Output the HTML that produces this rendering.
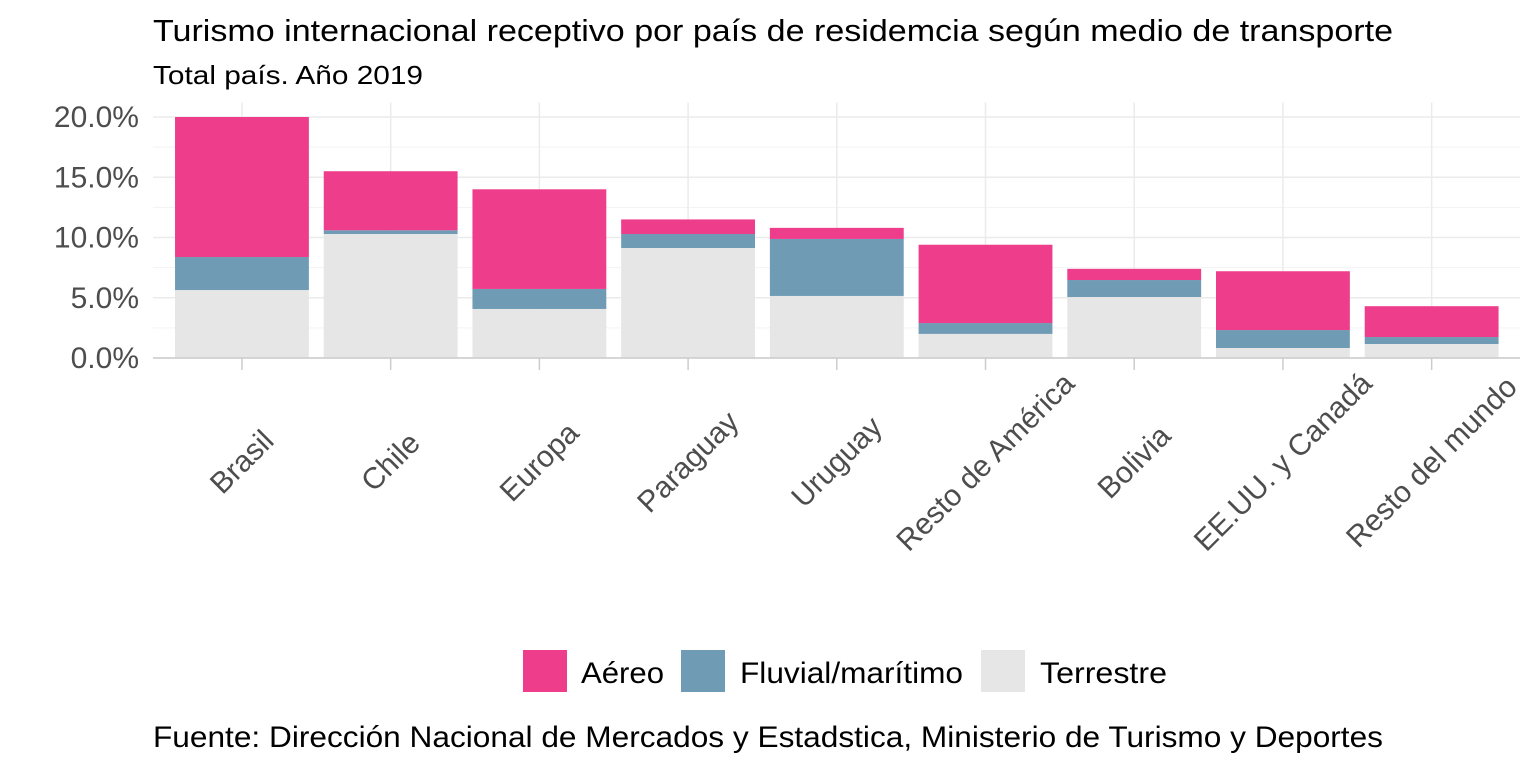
<!DOCTYPE html>
<html><head><meta charset="utf-8"><style>
body{margin:0;background:#fff;}
svg{font-family:"Liberation Sans",Arial,sans-serif;}
</style></head><body>
<svg id="chart" width="1536" height="768" viewBox="0 0 1536 768">
<text x="153" y="41" font-size="31" fill="#000" textLength="1240" lengthAdjust="spacingAndGlyphs">Turismo internacional receptivo por país de residemcia según medio de transporte</text>
<text x="153" y="84" font-size="26" fill="#000" textLength="270" lengthAdjust="spacingAndGlyphs">Total país. Año 2019</text>
<g id="grid"></g>
<g id="bars"></g>
<g id="axes"></g>
<g>
<rect x="523" y="650" width="44" height="42" fill="#ee3d8b"/>
<text x="581" y="683" font-size="30" fill="#000" textLength="83" lengthAdjust="spacingAndGlyphs">Aéreo</text>
<rect x="681" y="650" width="44" height="42" fill="#6f9bb5"/>
<text x="740" y="683" font-size="30" fill="#000" textLength="223" lengthAdjust="spacingAndGlyphs">Fluvial/marítimo</text>
<rect x="981" y="650" width="44" height="42" fill="#e6e6e6"/>
<text x="1040" y="683" font-size="30" fill="#000" textLength="127" lengthAdjust="spacingAndGlyphs">Terrestre</text>
</g>
<text x="153" y="747" font-size="30" fill="#000" textLength="1230" lengthAdjust="spacingAndGlyphs">Fuente: Dirección Nacional de Mercados y Estadstica, Ministerio de Turismo y Deportes</text>
</svg>
<script>
const categories=["Brasil","Chile","Europa","Paraguay","Uruguay","Resto de América","Bolivia","EE.UU. y Canadá","Resto del mundo"];
const terrestre=[5.64,10.29,4.07,9.13,5.15,2.0,5.06,0.83,1.16];
const fluvial=[2.74,0.31,1.66,1.16,4.73,0.9,1.41,1.49,0.58];
const aereo=[11.62,4.9,8.27,1.21,0.92,6.5,0.93,4.88,2.56];
const yTicks=[0,5,10,15,20];
const yTickLabels=["0.0%","5.0%","10.0%","15.0%","20.0%"];
const NS="http://www.w3.org/2000/svg";
const gx0=153,gx1=1520,px0=167.6,px1=1506,y0=358,pxPerUnit=12.05;
const step=(px1-px0)/categories.length;
const bw=step*0.9;
const y=v=>y0-v*pxPerUnit;
const x=i=>px0+step*(i+0.5);
function mk(tag,attrs,parent){const e=document.createElementNS(NS,tag);for(const k in attrs)e.setAttribute(k,attrs[k]);document.getElementById(parent).appendChild(e);return e;}
for(let t=0;t<yTicks.length;t++){
  const l=mk('line',{x1:gx0,x2:gx1,y1:y(yTicks[t]),y2:y(yTicks[t]),stroke:'#ebebeb','stroke-width':1.5},'grid');
  
  
  if(t<yTicks.length-1){
    const m=mk('line',{x1:gx0,x2:gx1,y1:y((yTicks[t]+yTicks[t+1])/2),y2:y((yTicks[t]+yTicks[t+1])/2),stroke:'#f3f3f3','stroke-width':1},'grid');
    
    
  }
  const tx=mk('text',{x:139,y:y(yTicks[t])+10,'text-anchor':'end','font-size':30,fill:'#4d4d4d'},'axes');
  tx.textContent=yTickLabels[t];
  
  
}
categories.forEach((c,i)=>{
  const g=mk('line',{x1:x(i),x2:x(i),y1:y(21.2),y2:y0,stroke:'#ebebeb','stroke-width':1.5},'grid');
  
  
  const segs=[[terrestre[i],'#e6e6e6','terrestre'],[fluvial[i],'#6f9bb5','fluvial'],[aereo[i],'#ee3d8b','aereo']];
  let base=0;
  segs.forEach(s=>{
    const r=mk('rect',{x:x(i)-bw/2,y:y(base+s[0]),width:bw,height:s[0]*pxPerUnit,fill:s[1]},'bars');
    
    
    base+=s[0];
  });
  const tk=mk('line',{x1:x(i),x2:x(i),y1:y0,y2:y0+12,stroke:'#cccccc','stroke-width':1.5},'axes');
  
  
  const cx=x(i)+7,cy=469;
  const lt=mk('text',{x:cx,y:cy,'text-anchor':'middle','font-size':30,fill:'#4d4d4d',transform:`rotate(-45 ${cx} ${cy})`},'axes');
  lt.textContent=c;
  
  
});
const ax=mk('line',{x1:gx0,x2:gx1,y1:y0,y2:y0,stroke:'#cccccc','stroke-width':1.5},'axes');


</script>
</body></html>
